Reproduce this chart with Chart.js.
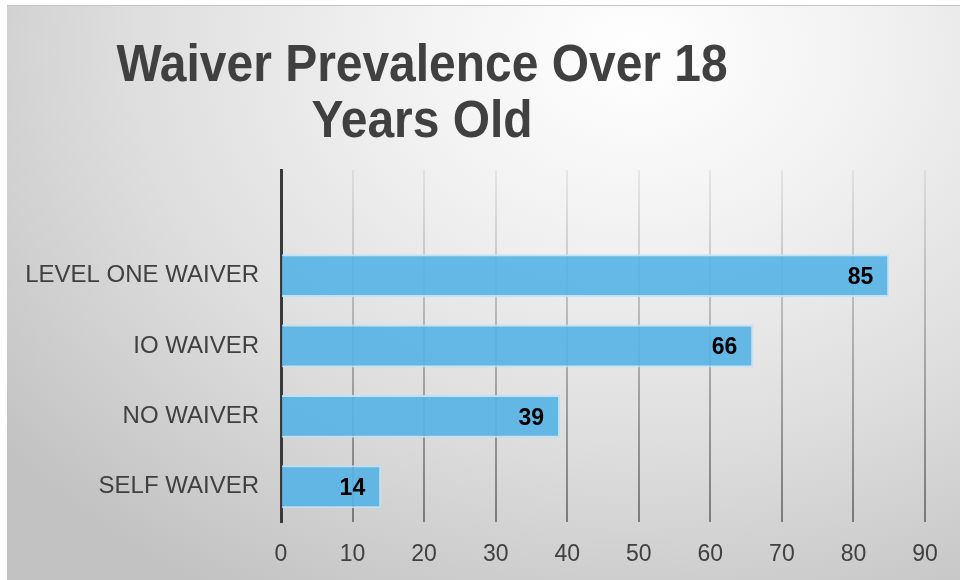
<!DOCTYPE html>
<html>
<head>
<meta charset="utf-8">
<script src="https://cdn.jsdelivr.net/npm/chart.js@4.4.0/dist/chart.umd.min.js"></script>
<style>
html, body { margin: 0; padding: 0; background: #fff; }
#wrap { position: relative; width: 960px; height: 580px; overflow: hidden; }
#bg {
    position: absolute; left: 7px; top: 5px; right: 0; bottom: 0;
    border-top: 1px solid #c4c4c4;
    background: radial-gradient(ellipse 85% 110% at 66% 8%, #ffffff 0%, #f2f2f2 28%, #dedede 62%, #c2c2c2 100%);
}
canvas { position: absolute; left: 0; top: 0; }
</style>
</head>
<body>
<div id="wrap">
    <div id="bg"></div>
    <canvas id="waiverChart" width="960" height="580"></canvas>
</div>
<script>
// data
const categories = ['', 'LEVEL ONE WAIVER', 'IO WAIVER', 'NO WAIVER', 'SELF WAIVER'];
const counts = [null, 85, 66, 39, 14];
const xMin = 0;
const xMax = 90;
const xStep = 10;
const titleLines = ['Waiver Prevalence Over 18', 'Years Old'];

const FONT = '"Liberation Sans", Arial, Helvetica, sans-serif';

// title is off-centre in the original, so draw it by hand
const titlePlugin = {
    id: 'titlePlugin',
    afterDraw(chart) {
        const ctx = chart.ctx;
        ctx.save();
        ctx.font = 'bold 51px ' + FONT;
        ctx.fillStyle = '#404040';
        ctx.textAlign = 'center';
        ctx.textBaseline = 'alphabetic';
        // original type is a bit taller than wide
        ctx.scale(0.94, 1);
        ctx.fillText(titleLines[0], 422 / 0.94, 81);
        ctx.fillText(titleLines[1], 422 / 0.94, 137);
        ctx.restore();
    }
};

// value labels at the inner end of each bar
const barValueLabels = {
    id: 'barValueLabels',
    afterDatasetsDraw(chart) {
        const ctx = chart.ctx;
        const meta = chart.getDatasetMeta(0);
        ctx.save();
        ctx.font = 'bold 23px ' + FONT;
        ctx.fillStyle = '#000';
        ctx.textAlign = 'right';
        ctx.textBaseline = 'middle';
        meta.data.forEach(function (bar, i) {
            if (counts[i] == null) return;
            ctx.fillText(counts[i], bar.x - 16, bar.y + 2);
        });
        ctx.restore();
    }
};

function gridGradient(c) {
    const chart = c.chart;
    const area = chart.chartArea;
    if (!area) return 'rgba(0,0,0,0.2)';
    const g = chart.ctx.createLinearGradient(0, area.top, 0, area.bottom);
    g.addColorStop(0, 'rgba(0,0,0,0.06)');
    g.addColorStop(1, 'rgba(0,0,0,0.42)');
    return g;
}

new Chart(document.getElementById('waiverChart'), {
    type: 'bar',
    data: {
        labels: categories,
        datasets: [{
            data: counts,
            backgroundColor: 'rgba(84,178,230,0.9)',
            borderColor: 'rgba(190,225,246,0.9)',
            borderWidth: 2,
            categoryPercentage: 1,
            barPercentage: 0.61
        }]
    },
    options: {
        indexAxis: 'y',
        responsive: false,
        animation: false,
        layout: {
            padding: { left: 0, right: 35, top: 170, bottom: 0 }
        },
        plugins: {
            legend: { display: false },
            title: { display: false },
            tooltip: { enabled: false }
        },
        scales: {
            x: {
                min: xMin,
                max: xMax,
                ticks: {
                    stepSize: xStep,
                    color: '#404040',
                    padding: 19,
                    font: { family: FONT, size: 23 }
                },
                grid: {
                    color: gridGradient,
                    lineWidth: 2,
                    drawTicks: false
                },
                border: { display: false },
                afterFit: function (scale) { scale.height = 58; }
            },
            y: {
                z: 1,
                ticks: {
                    color: '#404040',
                    padding: 22,
                    font: { family: FONT, size: 24 }
                },
                grid: { display: false, drawTicks: false },
                border: { display: true, color: '#3a3a3a', width: 3 },
                afterFit: function (scale) { scale.width = 281; }
            }
        }
    },
    plugins: [titlePlugin, barValueLabels]
});
</script>
</body>
</html>
